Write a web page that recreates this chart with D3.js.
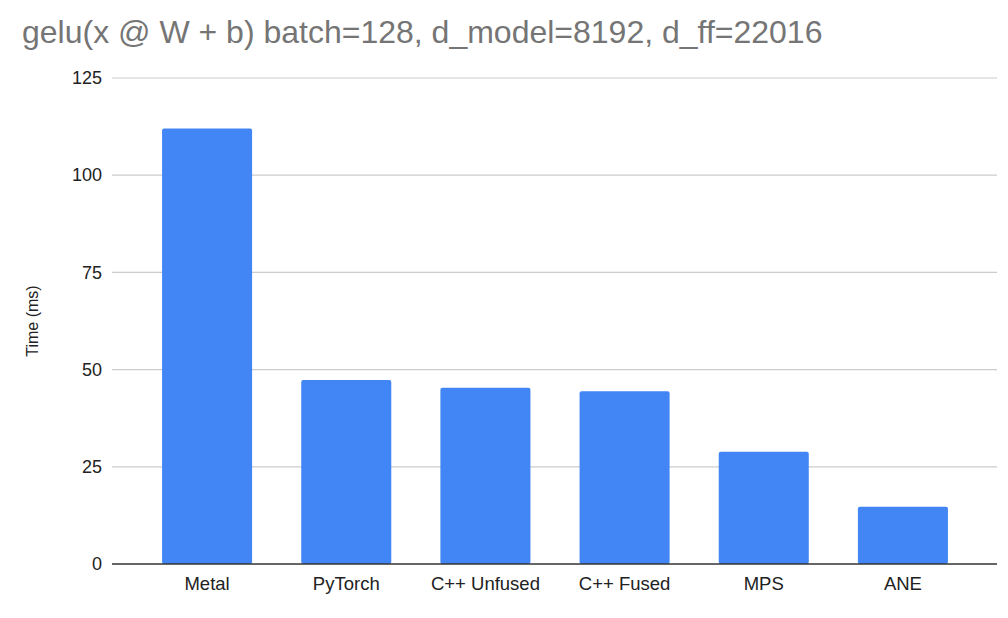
<!DOCTYPE html>
<html>
<head>
<meta charset="utf-8">
<script src="https://cdn.jsdelivr.net/npm/d3@7"></script>
<style>
  html, body { margin: 0; padding: 0; background: #fff; }
  svg { display: block; font-family: "Liberation Sans", Arial, sans-serif; }
</style>
</head>
<body>
<svg id="chart" width="1008" height="618"></svg>
<script>
const categories = ["Metal", "PyTorch", "C++ Unfused", "C++ Fused", "MPS", "ANE"];
const timesMs = [112, 47.3, 45.3, 44.4, 28.9, 14.7];
const yTicks = [0, 25, 50, 75, 100, 125];
const titleText = "gelu(x @ W + b) batch=128, d_model=8192, d_ff=22016";
const yTitle = "Time (ms)";

const svg = d3.select("#chart");
const plotLeft = 112, plotRight = 997, plotTop = 78, plotBottom = 564;

const x = d3.scaleBand()
  .domain(categories)
  .range([137.5, 972.5])
  .paddingInner(0.353)
  .paddingOuter(0.1765);

const y = d3.scaleLinear().domain([0, 125]).range([plotBottom, plotTop]);

// title
svg.append("text")
  .attr("x", 22).attr("y", 43)
  .attr("fill", "#757575")
  .attr("font-size", 32)
  .text(titleText);

// y tick labels
const yAxis = d3.axisLeft(y).tickValues(yTicks).tickSize(0).tickPadding(10);
const gy = svg.append("g").attr("transform", `translate(${plotLeft},0)`).call(yAxis);
gy.select(".domain").remove();
gy.selectAll("text").attr("font-size", 18).attr("fill", "#222").attr("font-family", "Liberation Sans, Arial, sans-serif");

// gridlines
svg.append("g").selectAll("line")
  .data(yTicks.filter(d => d !== 0))
  .join("line")
  .attr("x1", plotLeft).attr("x2", plotRight)
  .attr("y1", d => y(d)).attr("y2", d => y(d))
  .attr("stroke", "#cccccc").attr("stroke-width", 1.2);

// bars
svg.append("g").selectAll("rect")
  .data(categories.map((c, i) => ({c, v: timesMs[i]})))
  .join("rect")
  .attr("x", d => x(d.c))
  .attr("width", x.bandwidth())
  .attr("y", d => y(d.v))
  .attr("height", d => y(0) - y(d.v))
  .attr("rx", 2).attr("ry", 2)
  .attr("fill", "#4285f4");

// baseline
svg.append("line")
  .attr("x1", plotLeft).attr("x2", plotRight)
  .attr("y1", y(0)).attr("y2", y(0))
  .attr("stroke", "#333").attr("stroke-width", 1.3);

// x axis labels
const xAxis = d3.axisBottom(x).tickSize(0).tickPadding(13);
const gx = svg.append("g").attr("transform", `translate(0,${plotBottom})`).call(xAxis);
gx.select(".domain").remove();
gx.selectAll("text").attr("font-size", 18.5).attr("fill", "#222").attr("font-family", "Liberation Sans, Arial, sans-serif");

// y title
svg.append("text")
  .attr("transform", `translate(38,${(plotTop + plotBottom) / 2}) rotate(-90)`)
  .attr("text-anchor", "middle")
  .attr("font-size", 16)
  .attr("fill", "#222")
  .text(yTitle);
</script>
</body>
</html>
